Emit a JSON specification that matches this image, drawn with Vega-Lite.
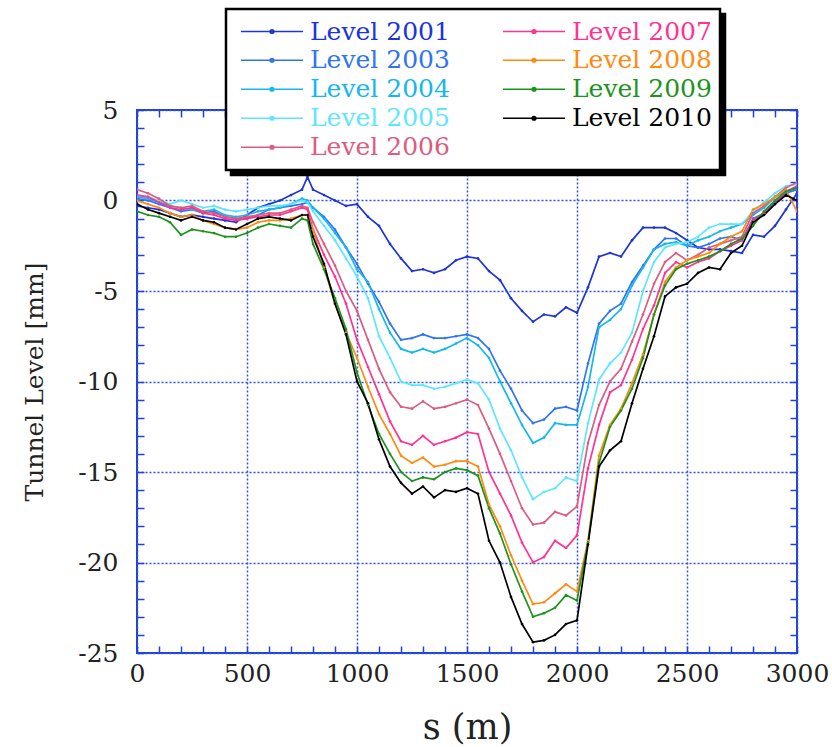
{
  "$schema": "https://vega.github.io/schema/vega-lite/v6.json",
  "autosize": {"type": "none"},
  "padding": {"left": 137, "top": 110, "right": 35, "bottom": 94},
  "width": 660,
  "height": 543,
  "background": "white",
  "data": {"values": [
    {"s":0,"Level 2001":-0.3,"Level 2003":0.1,"Level 2004":0.2,"Level 2005":0.3,"Level 2006":0.6,"Level 2007":0.3,"Level 2008":0.0,"Level 2009":-0.6,"Level 2010":-0.2},
    {"s":50,"Level 2001":-0.4,"Level 2003":0.0,"Level 2004":0.1,"Level 2005":0.2,"Level 2006":0.4,"Level 2007":0.2,"Level 2008":-0.2,"Level 2009":-0.8,"Level 2010":-0.5},
    {"s":100,"Level 2001":-0.5,"Level 2003":-0.2,"Level 2004":-0.1,"Level 2005":0.0,"Level 2006":0.1,"Level 2007":-0.1,"Level 2008":-0.4,"Level 2009":-0.9,"Level 2010":-0.7},
    {"s":150,"Level 2001":-0.7,"Level 2003":-0.4,"Level 2004":-0.3,"Level 2005":-0.2,"Level 2006":-0.3,"Level 2007":-0.4,"Level 2008":-0.7,"Level 2009":-1.2,"Level 2010":-0.9},
    {"s":200,"Level 2001":-0.9,"Level 2003":-0.6,"Level 2004":-0.4,"Level 2005":0.0,"Level 2006":-0.4,"Level 2007":-0.5,"Level 2008":-0.9,"Level 2009":-1.9,"Level 2010":-1.1},
    {"s":250,"Level 2001":-0.8,"Level 2003":-0.5,"Level 2004":-0.5,"Level 2005":-0.2,"Level 2006":-0.3,"Level 2007":-0.4,"Level 2008":-0.8,"Level 2009":-1.6,"Level 2010":-0.9},
    {"s":300,"Level 2001":-0.9,"Level 2003":-0.7,"Level 2004":-0.6,"Level 2005":-0.4,"Level 2006":-0.6,"Level 2007":-0.7,"Level 2008":-1.1,"Level 2009":-1.7,"Level 2010":-1.1},
    {"s":350,"Level 2001":-1.0,"Level 2003":-0.6,"Level 2004":-0.5,"Level 2005":-0.3,"Level 2006":-0.7,"Level 2007":-0.8,"Level 2008":-1.3,"Level 2009":-1.8,"Level 2010":-1.2},
    {"s":400,"Level 2001":-1.1,"Level 2003":-0.9,"Level 2004":-0.8,"Level 2005":-0.5,"Level 2006":-0.9,"Level 2007":-1.0,"Level 2008":-1.5,"Level 2009":-2.0,"Level 2010":-1.5},
    {"s":450,"Level 2001":-1.2,"Level 2003":-1.0,"Level 2004":-0.9,"Level 2005":-0.6,"Level 2006":-1.0,"Level 2007":-1.1,"Level 2008":-1.6,"Level 2009":-2.0,"Level 2010":-1.6},
    {"s":500,"Level 2001":-0.8,"Level 2003":-1.0,"Level 2004":-0.8,"Level 2005":-0.5,"Level 2006":-0.9,"Level 2007":-1.0,"Level 2008":-1.5,"Level 2009":-1.8,"Level 2010":-1.3},
    {"s":550,"Level 2001":-0.4,"Level 2003":-0.8,"Level 2004":-0.6,"Level 2005":-0.4,"Level 2006":-0.8,"Level 2007":-0.9,"Level 2008":-1.2,"Level 2009":-1.5,"Level 2010":-1.0},
    {"s":600,"Level 2001":-0.2,"Level 2003":-0.5,"Level 2004":-0.5,"Level 2005":-0.3,"Level 2006":-0.7,"Level 2007":-0.8,"Level 2008":-1.1,"Level 2009":-1.3,"Level 2010":-0.9},
    {"s":650,"Level 2001":0.0,"Level 2003":-0.4,"Level 2004":-0.4,"Level 2005":-0.3,"Level 2006":-0.7,"Level 2007":-0.8,"Level 2008":-1.1,"Level 2009":-1.4,"Level 2010":-1.0},
    {"s":700,"Level 2001":0.3,"Level 2003":-0.3,"Level 2004":-0.2,"Level 2005":-0.2,"Level 2006":-0.5,"Level 2007":-0.6,"Level 2008":-1.0,"Level 2009":-1.5,"Level 2010":-1.1},
    {"s":750,"Level 2001":0.6,"Level 2003":-0.2,"Level 2004":0.1,"Level 2005":0.0,"Level 2006":-0.3,"Level 2007":-0.4,"Level 2008":-0.8,"Level 2009":-1.0,"Level 2010":-0.8},
    {"s":775,"Level 2001":1.3,"Level 2003":-0.1,"Level 2004":0.0,"Level 2005":-0.1,"Level 2006":-0.4,"Level 2007":-0.5,"Level 2008":-0.8,"Level 2009":-1.1,"Level 2010":-0.8},
    {"s":800,"Level 2001":0.6,"Level 2003":-0.4,"Level 2004":-0.4,"Level 2005":-0.6,"Level 2006":-1.2,"Level 2007":-1.6,"Level 2008":-1.6,"Level 2009":-2.4,"Level 2010":-2.0},
    {"s":850,"Level 2001":0.3,"Level 2003":-0.9,"Level 2004":-1.0,"Level 2005":-1.4,"Level 2006":-2.4,"Level 2007":-3.0,"Level 2008":-3.7,"Level 2009":-3.8,"Level 2010":-3.5},
    {"s":900,"Level 2001":0.0,"Level 2003":-1.6,"Level 2004":-1.8,"Level 2005":-2.2,"Level 2006":-3.6,"Level 2007":-4.2,"Level 2008":-5.7,"Level 2009":-5.4,"Level 2010":-5.7},
    {"s":950,"Level 2001":-0.3,"Level 2003":-2.6,"Level 2004":-2.6,"Level 2005":-3.2,"Level 2006":-5.0,"Level 2007":-5.7,"Level 2008":-7.3,"Level 2009":-7.1,"Level 2010":-7.4},
    {"s":1000,"Level 2001":-0.2,"Level 2003":-3.5,"Level 2004":-3.8,"Level 2005":-4.2,"Level 2006":-6.1,"Level 2007":-7.7,"Level 2008":-8.7,"Level 2009":-9.5,"Level 2010":-10.0},
    {"s":1050,"Level 2001":-0.9,"Level 2003":-4.6,"Level 2004":-4.5,"Level 2005":-5.4,"Level 2006":-7.7,"Level 2007":-9.2,"Level 2008":-10.3,"Level 2009":-11.3,"Level 2010":-11.2},
    {"s":1100,"Level 2001":-1.4,"Level 2003":-5.6,"Level 2004":-6.0,"Level 2005":-7.5,"Level 2006":-9.3,"Level 2007":-10.7,"Level 2008":-11.8,"Level 2009":-12.9,"Level 2010":-13.2},
    {"s":1150,"Level 2001":-2.4,"Level 2003":-6.8,"Level 2004":-7.3,"Level 2005":-8.7,"Level 2006":-10.6,"Level 2007":-12.2,"Level 2008":-12.9,"Level 2009":-14.0,"Level 2010":-14.7},
    {"s":1200,"Level 2001":-3.2,"Level 2003":-7.7,"Level 2004":-8.2,"Level 2005":-10.0,"Level 2006":-11.4,"Level 2007":-13.3,"Level 2008":-14.1,"Level 2009":-15.0,"Level 2010":-15.6},
    {"s":1250,"Level 2001":-3.9,"Level 2003":-7.6,"Level 2004":-8.4,"Level 2005":-10.2,"Level 2006":-11.5,"Level 2007":-13.5,"Level 2008":-14.5,"Level 2009":-15.5,"Level 2010":-16.2},
    {"s":1300,"Level 2001":-3.8,"Level 2003":-7.4,"Level 2004":-8.2,"Level 2005":-10.2,"Level 2006":-11.1,"Level 2007":-13.0,"Level 2008":-14.2,"Level 2009":-15.3,"Level 2010":-15.8},
    {"s":1350,"Level 2001":-4.0,"Level 2003":-7.6,"Level 2004":-8.4,"Level 2005":-10.4,"Level 2006":-11.5,"Level 2007":-13.5,"Level 2008":-14.7,"Level 2009":-15.4,"Level 2010":-16.4},
    {"s":1400,"Level 2001":-3.8,"Level 2003":-7.6,"Level 2004":-8.2,"Level 2005":-10.3,"Level 2006":-11.4,"Level 2007":-13.3,"Level 2008":-14.6,"Level 2009":-15.0,"Level 2010":-16.0},
    {"s":1450,"Level 2001":-3.3,"Level 2003":-7.5,"Level 2004":-7.9,"Level 2005":-10.1,"Level 2006":-11.2,"Level 2007":-13.1,"Level 2008":-14.4,"Level 2009":-14.8,"Level 2010":-16.1},
    {"s":1500,"Level 2001":-3.1,"Level 2003":-7.4,"Level 2004":-7.6,"Level 2005":-9.9,"Level 2006":-11.0,"Level 2007":-12.8,"Level 2008":-14.4,"Level 2009":-14.9,"Level 2010":-15.9},
    {"s":1550,"Level 2001":-3.2,"Level 2003":-7.6,"Level 2004":-8.0,"Level 2005":-10.1,"Level 2006":-11.3,"Level 2007":-12.9,"Level 2008":-14.7,"Level 2009":-15.2,"Level 2010":-16.2},
    {"s":1600,"Level 2001":-3.9,"Level 2003":-8.2,"Level 2004":-8.7,"Level 2005":-11.0,"Level 2006":-12.6,"Level 2007":-15.0,"Level 2008":-16.8,"Level 2009":-17.0,"Level 2010":-18.8},
    {"s":1650,"Level 2001":-4.4,"Level 2003":-9.4,"Level 2004":-10.0,"Level 2005":-12.6,"Level 2006":-14.0,"Level 2007":-16.2,"Level 2008":-18.0,"Level 2009":-18.4,"Level 2010":-20.0},
    {"s":1700,"Level 2001":-5.4,"Level 2003":-10.4,"Level 2004":-11.2,"Level 2005":-13.8,"Level 2006":-15.5,"Level 2007":-17.4,"Level 2008":-19.6,"Level 2009":-20.1,"Level 2010":-21.9},
    {"s":1750,"Level 2001":-6.1,"Level 2003":-11.6,"Level 2004":-12.4,"Level 2005":-15.3,"Level 2006":-17.0,"Level 2007":-18.9,"Level 2008":-21.0,"Level 2009":-21.6,"Level 2010":-23.4},
    {"s":1800,"Level 2001":-6.7,"Level 2003":-12.3,"Level 2004":-13.4,"Level 2005":-16.5,"Level 2006":-17.9,"Level 2007":-20.0,"Level 2008":-22.3,"Level 2009":-23.0,"Level 2010":-24.4},
    {"s":1850,"Level 2001":-6.3,"Level 2003":-12.1,"Level 2004":-13.1,"Level 2005":-16.1,"Level 2006":-17.8,"Level 2007":-19.7,"Level 2008":-22.2,"Level 2009":-22.8,"Level 2010":-24.3},
    {"s":1900,"Level 2001":-6.4,"Level 2003":-11.5,"Level 2004":-12.3,"Level 2005":-15.9,"Level 2006":-17.2,"Level 2007":-18.8,"Level 2008":-21.7,"Level 2009":-22.5,"Level 2010":-24.0},
    {"s":1950,"Level 2001":-5.9,"Level 2003":-11.4,"Level 2004":-12.4,"Level 2005":-15.3,"Level 2006":-17.4,"Level 2007":-19.2,"Level 2008":-21.2,"Level 2009":-21.8,"Level 2010":-23.4},
    {"s":2000,"Level 2001":-6.2,"Level 2003":-11.6,"Level 2004":-12.4,"Level 2005":-15.5,"Level 2006":-16.9,"Level 2007":-18.5,"Level 2008":-21.6,"Level 2009":-22.1,"Level 2010":-23.2},
    {"s":2050,"Level 2001":-4.8,"Level 2003":-9.0,"Level 2004":-10.3,"Level 2005":-12.3,"Level 2006":-13.4,"Level 2007":-14.8,"Level 2008":-18.8,"Level 2009":-18.9,"Level 2010":-19.0},
    {"s":2100,"Level 2001":-3.1,"Level 2003":-6.8,"Level 2004":-7.0,"Level 2005":-9.9,"Level 2006":-11.3,"Level 2007":-12.4,"Level 2008":-14.1,"Level 2009":-14.5,"Level 2010":-14.7},
    {"s":2150,"Level 2001":-2.9,"Level 2003":-6.1,"Level 2004":-6.6,"Level 2005":-9.0,"Level 2006":-10.0,"Level 2007":-10.6,"Level 2008":-12.4,"Level 2009":-12.5,"Level 2010":-13.8},
    {"s":2200,"Level 2001":-3.1,"Level 2003":-5.7,"Level 2004":-6.0,"Level 2005":-8.4,"Level 2006":-9.3,"Level 2007":-10.2,"Level 2008":-11.5,"Level 2009":-11.6,"Level 2010":-13.3},
    {"s":2250,"Level 2001":-2.2,"Level 2003":-4.5,"Level 2004":-4.7,"Level 2005":-7.3,"Level 2006":-7.8,"Level 2007":-8.8,"Level 2008":-10.1,"Level 2009":-10.4,"Level 2010":-11.2},
    {"s":2300,"Level 2001":-1.5,"Level 2003":-3.6,"Level 2004":-3.7,"Level 2005":-5.0,"Level 2006":-6.3,"Level 2007":-7.1,"Level 2008":-8.5,"Level 2009":-8.7,"Level 2010":-9.3},
    {"s":2350,"Level 2001":-1.5,"Level 2003":-2.7,"Level 2004":-2.7,"Level 2005":-3.4,"Level 2006":-4.6,"Level 2007":-5.8,"Level 2008":-6.3,"Level 2009":-6.3,"Level 2010":-7.5},
    {"s":2400,"Level 2001":-1.5,"Level 2003":-2.1,"Level 2004":-2.4,"Level 2005":-2.6,"Level 2006":-3.4,"Level 2007":-4.0,"Level 2008":-4.5,"Level 2009":-4.7,"Level 2010":-5.3},
    {"s":2450,"Level 2001":-1.8,"Level 2003":-2.1,"Level 2004":-2.3,"Level 2005":-2.4,"Level 2006":-2.9,"Level 2007":-3.4,"Level 2008":-3.7,"Level 2009":-3.8,"Level 2010":-4.8},
    {"s":2500,"Level 2001":-2.2,"Level 2003":-2.5,"Level 2004":-2.5,"Level 2005":-2.3,"Level 2006":-3.3,"Level 2007":-3.7,"Level 2008":-3.3,"Level 2009":-3.5,"Level 2010":-4.6},
    {"s":2550,"Level 2001":-2.6,"Level 2003":-2.6,"Level 2004":-2.2,"Level 2005":-2.0,"Level 2006":-3.0,"Level 2007":-3.4,"Level 2008":-3.1,"Level 2009":-3.3,"Level 2010":-4.0},
    {"s":2600,"Level 2001":-2.7,"Level 2003":-2.4,"Level 2004":-2.0,"Level 2005":-1.5,"Level 2006":-2.6,"Level 2007":-3.2,"Level 2008":-2.9,"Level 2009":-3.1,"Level 2010":-3.7},
    {"s":2650,"Level 2001":-2.7,"Level 2003":-2.1,"Level 2004":-1.7,"Level 2005":-1.3,"Level 2006":-2.4,"Level 2007":-2.8,"Level 2008":-2.4,"Level 2009":-2.8,"Level 2010":-3.8},
    {"s":2700,"Level 2001":-2.8,"Level 2003":-2.0,"Level 2004":-1.5,"Level 2005":-1.3,"Level 2006":-2.2,"Level 2007":-2.5,"Level 2008":-2.0,"Level 2009":-2.4,"Level 2010":-2.9},
    {"s":2750,"Level 2001":-2.9,"Level 2003":-2.2,"Level 2004":-1.3,"Level 2005":-1.3,"Level 2006":-2.0,"Level 2007":-2.2,"Level 2008":-1.7,"Level 2009":-2.1,"Level 2010":-2.5},
    {"s":2800,"Level 2001":-1.9,"Level 2003":-1.0,"Level 2004":-0.8,"Level 2005":-0.6,"Level 2006":-0.7,"Level 2007":-1.1,"Level 2008":-0.5,"Level 2009":-1.4,"Level 2010":-1.2},
    {"s":2850,"Level 2001":-2.0,"Level 2003":-0.7,"Level 2004":-0.4,"Level 2005":-0.1,"Level 2006":-0.3,"Level 2007":-0.7,"Level 2008":-0.2,"Level 2009":-0.6,"Level 2010":-0.8},
    {"s":2900,"Level 2001":-1.4,"Level 2003":-0.1,"Level 2004":0.2,"Level 2005":0.4,"Level 2006":0.2,"Level 2007":-0.2,"Level 2008":0.2,"Level 2009":0.0,"Level 2010":-0.2},
    {"s":2950,"Level 2001":-0.5,"Level 2003":0.4,"Level 2004":0.5,"Level 2005":0.8,"Level 2006":0.7,"Level 2007":0.5,"Level 2008":0.6,"Level 2009":0.5,"Level 2010":0.3},
    {"s":3000,"Level 2001":0.4,"Level 2003":0.6,"Level 2004":0.7,"Level 2005":0.9,"Level 2006":1.0,"Level 2007":0.8,"Level 2008":-0.6,"Level 2009":0.7,"Level 2010":0.0}
  ]},
  "transform": [
    {"fold": ["Level 2001","Level 2003","Level 2004","Level 2005","Level 2006","Level 2007","Level 2008","Level 2009","Level 2010"], "as": ["series","level"]}
  ],
  "resolve": {"axis": {"x": "independent", "y": "independent"}},
  "layer": [
    {
      "mark": {"type": "point", "opacity": 0},
      "encoding": {
        "x": {"field": "s", "type": "quantitative",
          "axis": {"orient": "top", "values": [0,100,200,300,400,500,600,700,800,900,1000,1100,1200,1300,1400,1500,1600,1700,1800,1900,2000,2100,2200,2300,2400,2500,2600,2700,2800,2900,3000],
            "labels": false, "domain": false, "grid": false, "ticks": true, "tickSize": -7, "tickColor": "#2040e0", "tickWidth": 1.5, "title": null}},
        "y": {"field": "level", "type": "quantitative",
          "axis": {"orient": "right", "values": [-25,-24,-23,-22,-21,-20,-19,-18,-17,-16,-15,-14,-13,-12,-11,-10,-9,-8,-7,-6,-5,-4,-3,-2,-1,0,1,2,3,4,5],
            "labels": false, "domain": false, "grid": false, "ticks": true, "tickSize": -7, "tickColor": "#2040e0", "tickWidth": 1.5, "title": null}},
        "fill": {"field": "series", "type": "nominal",
          "scale": {"domain": ["Level 2010","Level 2009","Level 2008","Level 2007","Level 2006","Level 2005","Level 2004","Level 2003","Level 2001"],
                    "range": ["black","black","black","black","black","black","black","black","black"]},
          "legend": {"orient": "none", "legendX": 94, "legendY": -96, "columns": 2, "title": null,
            "fillColor": "black", "strokeColor": "black", "padding": 8,
            "labelExpr": "''", "labelOffset": 0, "labelFontSize": 25,
            "symbolType": "M-1,0H1",
            "symbolSize": 43264, "symbolStrokeWidth": 1.5, "symbolOffset": 6, "symbolStrokeColor": "black", "symbolFillColor": "black",
            "clipHeight": 28.5, "rowPadding": 0, "columnPadding": 46,
            "encode": {"legend": {"update": {"strokeWidth": {"value": 2.5}}}}}}
      }
    },
    {
      "mark": {"type": "line", "strokeWidth": 1.7, "clip": true, "point": {"filled": true, "size": 7}},
      "encoding": {
        "x": {"field": "s", "type": "quantitative",
          "scale": {"domain": [0, 3000], "nice": false},
          "axis": {"orient": "bottom", "values": [0,100,200,300,400,500,600,700,800,900,1000,1100,1200,1300,1400,1500,1600,1700,1800,1900,2000,2100,2200,2300,2400,2500,2600,2700,2800,2900,3000],
            "labelExpr": "datum.value % 500 === 0 ? '' + datum.value : ''",
            "labelFont": "DejaVu Serif", "labelFontSize": 25, "labelColor": "#222222", "labelPadding": 15, "labelFlush": false, "labelOverlap": false,
            "domain": false, "ticks": true, "tickSize": -7, "tickColor": "#2040e0", "tickWidth": 1.5,
            "grid": true, "gridColor": "#3050e8", "gridDash": [2, 2], "gridWidth": 1.5,
            "gridOpacity": {"condition": {"test": "datum.value % 500 === 0", "value": 1}, "value": 0},
            "title": "s (m)", "titleFont": "DejaVu Serif", "titleFontSize": 35, "titleFontWeight": "normal", "titleColor": "#222222", "titlePadding": 24}},
        "y": {"field": "level", "type": "quantitative",
          "scale": {"domain": [-25, 5], "nice": false, "zero": false},
          "axis": {"orient": "left", "values": [-25,-24,-23,-22,-21,-20,-19,-18,-17,-16,-15,-14,-13,-12,-11,-10,-9,-8,-7,-6,-5,-4,-3,-2,-1,0,1,2,3,4,5],
            "labelExpr": "datum.value % 5 === 0 ? '' + datum.value : ''",
            "labelFont": "DejaVu Serif", "labelFontSize": 25, "labelColor": "#222222", "labelPadding": 26, "labelFlush": false, "labelOverlap": false,
            "domain": false, "ticks": true, "tickSize": -7, "tickColor": "#2040e0", "tickWidth": 1.5,
            "grid": true, "gridColor": "#3050e8", "gridDash": [2, 2], "gridWidth": 1.5,
            "gridOpacity": {"condition": {"test": "datum.value % 5 === 0", "value": 1}, "value": 0},
            "title": "Tunnel Level [mm]", "titleFont": "DejaVu Serif", "titleFontSize": 25, "titleFontWeight": "normal", "titleColor": "#222222", "titlePadding": 30}},
        "color": {"field": "series", "type": "nominal",
          "scale": {"domain": ["Level 2001","Level 2003","Level 2004","Level 2005","Level 2006","Level 2007","Level 2008","Level 2009","Level 2010"],
                    "range": ["#1c34d8","#2f74f0","#14b8ee","#5ee6ff","#dc5c80","#ff3392","#ff8a10","#1c941c","#000000"]},
          "legend": {"orient": "none", "legendX": 89, "legendY": -101, "columns": 2, "title": null,
            "fillColor": "white", "strokeColor": "black", "padding": 8,
            "labelFont": "DejaVu Serif", "labelFontSize": 25, "labelOffset": 6, "labelLimit": 300,
            "symbolType": "M-1,0H1M-0.06,0A0.06,0.06,0,1,1,0.06,0A0.06,0.06,0,1,1,-0.06,0Z",
            "symbolSize": 3844, "symbolStrokeWidth": 1.5, "symbolOffset": 6,
            "clipHeight": 28.5, "rowPadding": 0, "columnPadding": 46,
            "encode": {
              "legend": {"update": {"strokeWidth": {"value": 2.5}}},
              "labels": {"update": {"fill": {"signal": "scale('color', datum.value)"}}},
              "symbols": {"update": {"fill": {"signal": "scale('color', datum.value)"}, "stroke": {"signal": "scale('color', datum.value)"}, "opacity": {"value": 1}}}
            }}}
      }
    }
  ],
  "config": {
    "view": {"stroke": "#2040e0", "strokeWidth": 2},
    "font": "DejaVu Serif"
  }
}
